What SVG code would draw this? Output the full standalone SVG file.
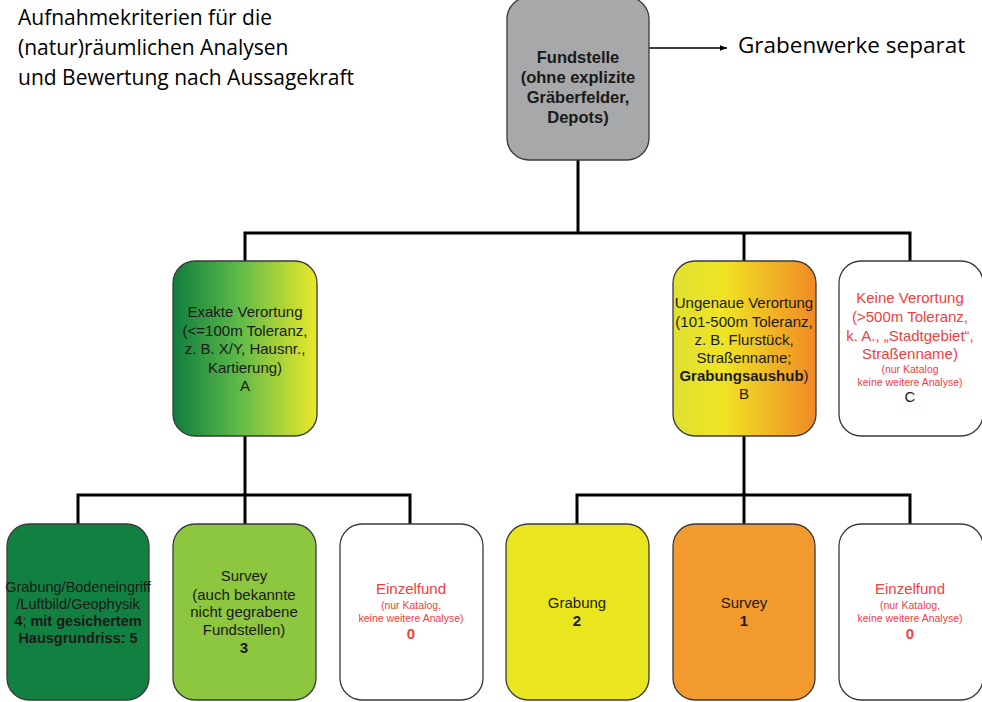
<svg xmlns="http://www.w3.org/2000/svg" width="982" height="702" viewBox="0 0 982 702">
<defs>
<linearGradient id="gA" x1="0" y1="0" x2="1" y2="0">
<stop offset="0" stop-color="#0f7d3c"/>
<stop offset="0.45" stop-color="#5cb94a"/>
<stop offset="1" stop-color="#ece82a"/>
</linearGradient>
<linearGradient id="gB" x1="0" y1="0" x2="1" y2="0">
<stop offset="0" stop-color="#dfe032"/>
<stop offset="0.35" stop-color="#f0e424"/>
<stop offset="1" stop-color="#f08a26"/>
</linearGradient>
<marker id="arr" viewBox="0 0 10 10" refX="10" refY="5" markerWidth="7" markerHeight="7" orient="auto" markerUnits="userSpaceOnUse">
<path d="M0,1 L10,5 L0,9 z" fill="#000"/>
</marker>
<style>
.box{stroke:#3a3a3a;stroke-width:1.3}
.t{font-family:"Liberation Sans",Arial,sans-serif;font-size:15px;text-anchor:middle;fill:#1a1a1a}
.b{font-weight:bold}
.r{fill:#f0403f}
.s{font-size:10.5px}
.title{font-family:"Open Sans","Noto Sans",sans-serif;font-size:21px;fill:#000}
.con{fill:none;stroke:#000;stroke-width:3}
</style>
</defs>
<text class="title" x="18" y="25">Aufnahmekriterien für die</text>
<text class="title" x="18" y="55">(natur)räumlichen Analysen</text>
<text class="title" x="18" y="85">und Bewertung nach Aussagekraft</text>
<text class="title" x="738" y="53" style="font-size:22.5px">Grabenwerke separat</text>

<g id="connectors">
<line x1="636" y1="48" x2="727" y2="48" stroke="#000" stroke-width="1.3" marker-end="url(#arr)"/>
<path class="con" d="M578,160 V233 M243.5,233 H911.5 M245,233 V262 M744,233 V262 M910,233 V262"/>
<path class="con" d="M245,436 V495 M76.5,495 H411.5 M78,495 V524 M245,495 V524 M410,495 V524"/>
<path class="con" d="M744,436 V495 M575.5,495 H911.5 M577,495 V524 M744,495 V524 M910,495 V524"/>
</g>

<g id="fundstelle">
<rect class="box" x="507" y="-3" width="142" height="163" rx="22" fill="#a6a8aa"/>
<text class="t b" x="578" y="63" style="font-size:16.5px">Fundstelle</text>
<text class="t b" x="578" y="83" style="font-size:16.5px">(ohne explizite</text>
<text class="t b" x="578" y="103" style="font-size:16.5px">Gräberfelder,</text>
<text class="t b" x="578" y="123" style="font-size:16.5px">Depots)</text>
</g>

<g id="exakte">
<rect class="box" x="173" y="261" width="144" height="175" rx="22" fill="url(#gA)"/>
<text class="t" x="245" y="317">Exakte Verortung</text>
<text class="t" x="245" y="336">(&lt;=100m Toleranz,</text>
<text class="t" x="245" y="354">z. B. X/Y,  Hausnr.,</text>
<text class="t" x="245" y="373">Kartierung)</text>
<text class="t" x="245" y="391">A</text>
</g>

<g id="ungenaue">
<rect class="box" x="673" y="261" width="143" height="175" rx="22" fill="url(#gB)"/>
<text class="t" x="744" y="308">Ungenaue Verortung</text>
<text class="t" x="744" y="327">(101-500m Toleranz,</text>
<text class="t" x="744" y="345">z. B. Flurstück,</text>
<text class="t" x="744" y="363">Straßenname;</text>
<text class="t" x="744" y="381"><tspan class="b">Grabungsaushub</tspan>)</text>
<text class="t" x="744" y="399">B</text>
</g>

<g id="keine">
<rect class="box" x="839" y="261" width="144" height="175" rx="22" fill="#fff"/>
<text class="t r" x="910" y="303">Keine Verortung</text>
<text class="t r" x="910" y="322">(&gt;500m Toleranz,</text>
<text class="t r" x="910" y="341">k. A., „Stadtgebiet“,</text>
<text class="t r" x="910" y="359">Straßenname)</text>
<text class="t r s" x="910" y="373">(nur Katalog</text>
<text class="t r s" x="910" y="386">keine  weitere Analyse)</text>
<text class="t" x="910" y="402">C</text>
</g>

<g id="grabung-boden">
<rect class="box" x="7" y="524" width="142" height="176" rx="22" fill="#128040"/>
<text class="t" x="78" y="592" style="font-size:14.5px">Grabung/Bodeneingriff</text>
<text class="t" x="78" y="609" style="font-size:14.5px">/Luftbild/Geophysik</text>
<text class="t b" x="78" y="626" style="font-size:14.5px">4<tspan font-weight="normal">;</tspan> mit gesichertem</text>
<text class="t b" x="78" y="643" style="font-size:14.5px">Hausgrundriss: 5</text>
</g>

<g id="survey-a">
<rect class="box" x="173" y="524" width="143" height="176" rx="22" fill="#8dc63f"/>
<text class="t" x="244" y="581">Survey</text>
<text class="t" x="244" y="600">(auch bekannte</text>
<text class="t" x="244" y="617">nicht gegrabene</text>
<text class="t" x="244" y="635">Fundstellen)</text>
<text class="t b" x="244" y="653">3</text>
</g>

<g id="einzelfund-a">
<rect class="box" x="340" y="524" width="143" height="176" rx="22" fill="#fff"/>
<text class="t r" x="411" y="594">Einzelfund</text>
<text class="t r s" x="411" y="609">(nur Katalog,</text>
<text class="t r s" x="411" y="622">keine  weitere Analyse)</text>
<text class="t r b" x="411" y="639">0</text>
</g>

<g id="grabung-b">
<rect class="box" x="506" y="524" width="143" height="176" rx="22" fill="#e9e620"/>
<text class="t" x="577" y="608">Grabung</text>
<text class="t b" x="577" y="626">2</text>
</g>

<g id="survey-b">
<rect class="box" x="673" y="524" width="142" height="176" rx="22" fill="#f39a2e"/>
<text class="t" x="744" y="608">Survey</text>
<text class="t b" x="744" y="626">1</text>
</g>

<g id="einzelfund-b">
<rect class="box" x="839" y="524" width="144" height="176" rx="22" fill="#fff"/>
<text class="t r" x="910" y="594">Einzelfund</text>
<text class="t r s" x="910" y="609">(nur Katalog,</text>
<text class="t r s" x="910" y="622">keine  weitere Analyse)</text>
<text class="t r b" x="910" y="639">0</text>
</g>
</svg>
